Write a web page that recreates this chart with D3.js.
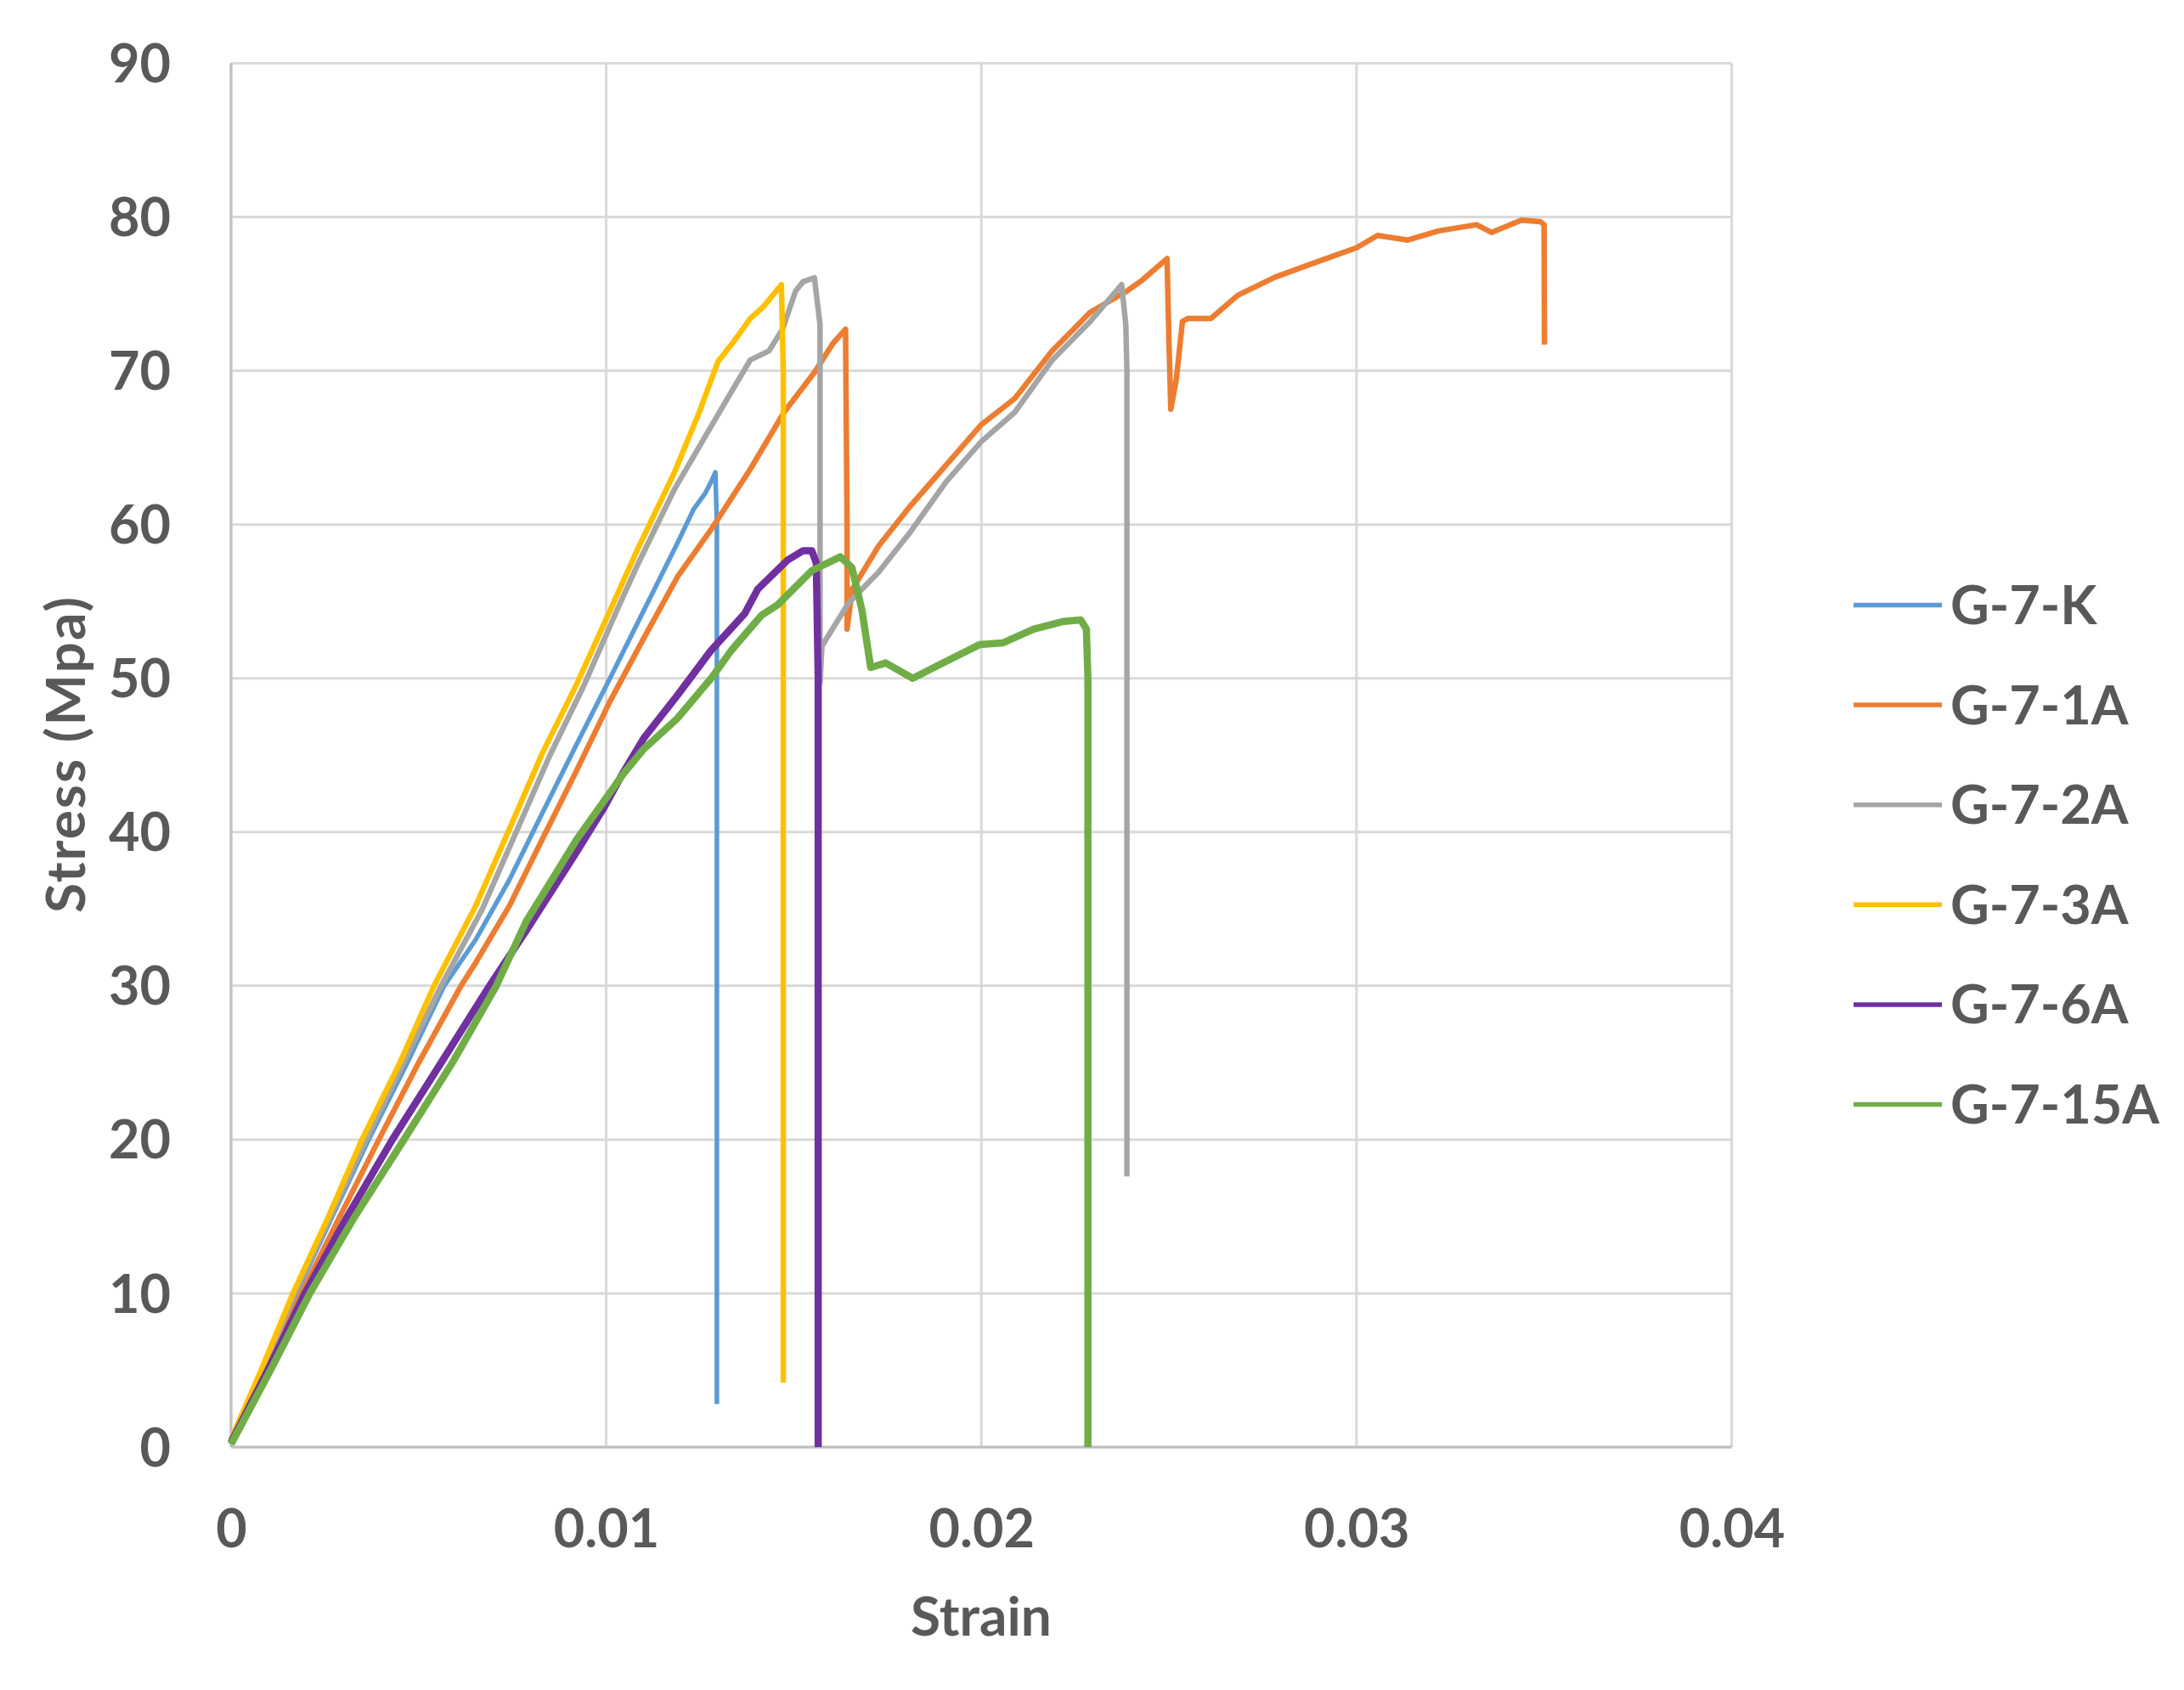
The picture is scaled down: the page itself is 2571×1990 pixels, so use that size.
<!DOCTYPE html>
<html>
<head>
<meta charset="utf-8">
<script src="https://cdn.jsdelivr.net/npm/d3@7"></script>
<style>
  html, body { margin: 0; padding: 0; background: #ffffff; }
  svg { display: block; }
  text { font-family: Lato, "Liberation Sans", sans-serif; font-weight: 700; fill: #595959; }
</style>
</head>
<body>
<svg id="chart" width="2571" height="1990"></svg>
<script>
// ---------- data (strain, stress in MPa) ----------
const seriesNames = ["G-7-K", "G-7-1A", "G-7-2A", "G-7-3A", "G-7-6A", "G-7-15A"];
const seriesColors = ["#5B9BD5", "#ED7D31", "#A5A5A5", "#FFC000", "#7030A0", "#70AD47"];

const dataK = [[0,0.3],[0.0009,5],[0.00174,10],[0.0027,15],[0.00367,20],[0.0047,25],[0.00568,30],[0.00652,33.0],[0.00742,36.9],[0.00831,41.3],[0.00921,45.7],[0.0101,50.0],[0.011,54.4],[0.01189,58.75],[0.01233,61.0],[0.01263,62.0],[0.0128,62.8],[0.01291,63.4],[0.01295,60],[0.01295,2.8]];

const data1A = [[0,0.2],[0.00095,5],[0.00188,10],[0.0029,15],[0.00394,20],[0.005,25],[0.00613,30],[0.00652,31.5],[0.00742,35.2],[0.00831,39.6],[0.00921,44.0],[0.0101,48.5],[0.011,52.6],[0.0119,56.6],[0.01283,59.8],[0.01384,63.6],[0.01474,67.3],[0.01555,69.9],[0.01605,71.8],[0.01638,72.7],[0.01642,60],[0.01642,53.2],[0.01656,55.8],[0.01726,58.6],[0.01807,61.1],[0.01907,63.9],[0.02,66.5],[0.02089,68.2],[0.02189,71.3],[0.0229,73.8],[0.02389,75.2],[0.02429,75.9],[0.02495,77.3],[0.025,72],[0.02505,67.5],[0.0252,69.5],[0.02536,73.2],[0.0255,73.4],[0.02612,73.4],[0.02683,74.9],[0.02784,76.1],[0.02885,77.0],[0.03,78.0],[0.03056,78.8],[0.03137,78.5],[0.03219,79.1],[0.0332,79.5],[0.0336,79.0],[0.0344,79.8],[0.0349,79.7],[0.035,79.5],[0.03501,71.7]];

const data2A = [[0,0.5],[0.00085,5],[0.0017,10],[0.0036,20],[0.0056,30],[0.0067,35],[0.0076,40],[0.0085,45],[0.0094,49.5],[0.0103,54.5],[0.01082,57.3],[0.01182,62.3],[0.01268,65.9],[0.01333,68.6],[0.01384,70.7],[0.01434,71.3],[0.0147,72.7],[0.01505,75.2],[0.01525,75.8],[0.01555,76.05],[0.0157,73],[0.0157,49.7],[0.01575,52.1],[0.01646,54.9],[0.01726,56.9],[0.01807,59.4],[0.01907,62.8],[0.02,65.4],[0.02089,67.3],[0.02189,70.7],[0.0229,73.2],[0.02374,75.6],[0.02385,73],[0.02388,70],[0.02388,17.6]];

const data3A = [[0,0.5],[0.0008,5],[0.00165,10],[0.0026,15],[0.00349,20],[0.0045,25],[0.00541,30],[0.00652,35.2],[0.00742,40.2],[0.00831,45.2],[0.00921,49.6],[0.0101,54.4],[0.01082,58.3],[0.01182,63.4],[0.01248,67.3],[0.01298,70.6],[0.01343,72.0],[0.01384,73.4],[0.0142,74.2],[0.01467,75.6],[0.01472,70],[0.01472,4.2]];

const data6A = [[0,0.3],[0.00098,5],[0.00197,10],[0.0031,15],[0.0043,20],[0.0056,25],[0.00689,30],[0.00787,33.6],[0.00921,38.7],[0.00992,41.5],[0.01046,43.9],[0.011,46.1],[0.0119,48.9],[0.01279,51.8],[0.01369,54.2],[0.01404,55.8],[0.01484,57.7],[0.01525,58.3],[0.01548,58.3],[0.0156,57.5],[0.01565,50],[0.01565,0]];

const data15A = [[0,0.2],[0.00105,5],[0.0021,10],[0.0033,15],[0.00461,20],[0.0059,25],[0.00707,30],[0.00787,34.2],[0.00921,39.5],[0.01046,43.8],[0.011,45.4],[0.0119,47.4],[0.01283,50.1],[0.01333,51.8],[0.01414,54.1],[0.01458,54.8],[0.01548,57.0],[0.01624,57.9],[0.01655,57.2],[0.01682,54.4],[0.01705,50.7],[0.01745,51.0],[0.01817,50.0],[0.01906,51.1],[0.01996,52.2],[0.02057,52.3],[0.02139,53.2],[0.0222,53.7],[0.02265,53.8],[0.0228,53.2],[0.02284,50],[0.02284,0]];

const xTicks = [0, 0.01, 0.02, 0.03, 0.04];
const yTicks = [0, 10, 20, 30, 40, 50, 60, 70, 80, 90];
const xTitle = "Strain";
const yTitle = "Stress (Mpa)";

const allSeries = [dataK, data1A, data2A, data3A, data6A, data15A];

// ---------- layout ----------
const svg = d3.select("#chart");
svg.append("rect").attr("width", 2571).attr("height", 1990).attr("fill", "#ffffff");

const pLeft = 272, pRight = 2038.5, pTop = 74.5, pBottom = 1704;
const x = d3.scaleLinear().domain([0, 0.04]).range([pLeft, pRight]);
const y = d3.scaleLinear().domain([0, 90]).range([pBottom, pTop]);

// gridlines
const grid = svg.append("g");
grid.selectAll("line.h").data(yTicks).join("line").attr("class", "h")
  .attr("x1", pLeft).attr("x2", pRight)
  .attr("y1", d => y(d)).attr("y2", d => y(d))
  .attr("stroke", "#D9D9D9").attr("stroke-width", 3);
grid.selectAll("line.v").data(xTicks).join("line").attr("class", "v")
  .attr("x1", d => x(d)).attr("x2", d => x(d))
  .attr("y1", pTop).attr("y2", pBottom)
  .attr("stroke", "#D9D9D9").attr("stroke-width", 3);
// axis lines
svg.append("line").attr("x1", pLeft).attr("x2", pLeft).attr("y1", pTop).attr("y2", pBottom)
  .attr("stroke", "#BFBFBF").attr("stroke-width", 3);
svg.append("line").attr("x1", pLeft).attr("x2", pRight).attr("y1", pBottom).attr("y2", pBottom)
  .attr("stroke", "#BFBFBF").attr("stroke-width", 3);

// axes (labels only)
const fmtX = d => d === 0 ? "0" : d3.format(".2f")(d);
const yAxis = svg.append("g").attr("transform", `translate(${pLeft},0)`)
  .call(d3.axisLeft(y).tickValues(yTicks).tickSize(0).tickPadding(71).tickFormat(d3.format("d")));
const xAxis = svg.append("g").attr("transform", `translate(0,${pBottom})`)
  .call(d3.axisBottom(x).tickValues(xTicks).tickSize(0).tickPadding(73).tickFormat(fmtX));
[yAxis, xAxis].forEach(g => {
  g.select(".domain").remove();
  g.selectAll("text").attr("font-size", 63).attr("font-family", "Lato, 'Liberation Sans', sans-serif")
    .attr("font-weight", 700).attr("fill", "#595959");
});
yAxis.selectAll("text").attr("dy", "0.35em");

// axis titles
svg.append("text").attr("x", 1155).attr("y", 1926).attr("text-anchor", "middle")
  .attr("font-size", 64).text(xTitle);
svg.append("text").attr("transform", "translate(100,889) rotate(-90)").attr("text-anchor", "middle")
  .attr("font-size", 64).attr("textLength", 372).attr("lengthAdjust", "spacing").text(yTitle);

// series
const line = d3.line().x(d => x(d[0])).y(d => y(d[1]));
const widths = [5.5, 6.5, 6.5, 6.5, 8.5, 8.5];
allSeries.forEach((s, i) => {
  svg.append("path").datum(s).attr("d", line)
    .attr("fill", "none").attr("stroke", seriesColors[i])
    .attr("stroke-width", widths[i]).attr("stroke-linejoin", "round").attr("stroke-linecap", "butt");
});

// legend
const legY = d3.scaleLinear().domain([0, 5]).range([712.5, 1300.5]);
const leg = svg.append("g");
seriesNames.forEach((name, i) => {
  const yy = legY(i);
  leg.append("line").attr("x1", 2182).attr("x2", 2286).attr("y1", yy).attr("y2", yy)
    .attr("stroke", seriesColors[i]).attr("stroke-width", 5.5);
  leg.append("text").attr("x", 2296).attr("y", yy + 22.5).attr("font-size", 63).text(name);
});
</script>
</body>
</html>
